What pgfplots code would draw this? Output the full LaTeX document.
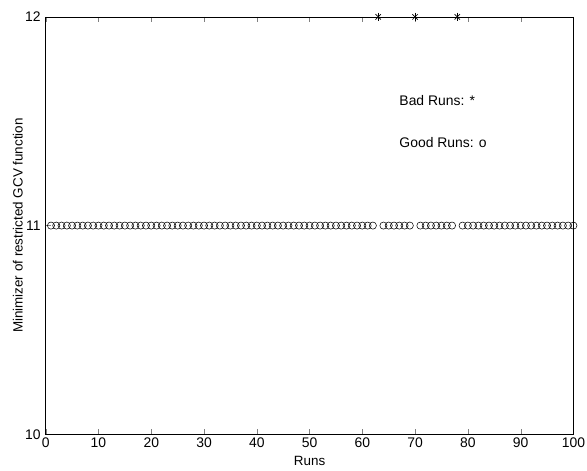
\documentclass[border=0pt]{standalone}
\usepackage{pgfplots}
\pgfplotsset{compat=1.18}
\usepackage{fontspec}
\setmainfont{Liberation Sans}
\begin{document}
\fontsize{14}{16}\selectfont
\begin{tikzpicture}
\begin{axis}[
  scale only axis, width=531pt, height=420pt,
  xmin=0, xmax=100, ymin=10, ymax=12,
  xtick={0,10,...,100}, ytick={10,11,12},
  tick align=inside, major tick length=5pt,
  xtick pos=both, ytick pos=left,
  /pgf/number format/assume math mode=true,
  tick label style={font=\fontsize{14}{16}\selectfont},
  label style={font=\fontsize{13.5}{16}\selectfont},
  xlabel={Runs}, ylabel={Minimizer of restricted GCV function},
  xlabel style={at={([yshift=-27pt]axis description cs:0.5,0)}, anchor=center},
  ylabel style={at={([xshift=-28pt]axis description cs:0,0.5)}, anchor=center},
  xticklabel style={inner sep=2pt, yshift=-1pt},
  yticklabel style={inner sep=2pt, xshift=-3pt},
  clip=false, axis line style={black, line width=0.6pt},
]
\addplot[only marks, mark=o, mark size=3.6pt, mark options={line width=0.55pt}] table {
x y
1 11
2 11
3 11
4 11
5 11
6 11
7 11
8 11
9 11
10 11
11 11
12 11
13 11
14 11
15 11
16 11
17 11
18 11
19 11
20 11
21 11
22 11
23 11
24 11
25 11
26 11
27 11
28 11
29 11
30 11
31 11
32 11
33 11
34 11
35 11
36 11
37 11
38 11
39 11
40 11
41 11
42 11
43 11
44 11
45 11
46 11
47 11
48 11
49 11
50 11
51 11
52 11
53 11
54 11
55 11
56 11
57 11
58 11
59 11
60 11
61 11
62 11
64 11
65 11
66 11
67 11
68 11
69 11
71 11
72 11
73 11
74 11
75 11
76 11
77 11
79 11
80 11
81 11
82 11
83 11
84 11
85 11
86 11
87 11
88 11
89 11
90 11
91 11
92 11
93 11
94 11
95 11
96 11
97 11
98 11
99 11
100 11
};
\addplot[only marks, mark=+, mark size=4.2pt, mark options={line width=0.7pt}] table {
x y
63 12
70 12
78 12
};
\addplot[only marks, mark=x, mark size=3.8pt, mark options={line width=0.7pt}] table {
x y
63 12
70 12
78 12
};
\node[anchor=west, inner sep=0pt] at (axis cs:67,11.6) {Bad Runs: *};
\node[anchor=west, inner sep=0pt] at (axis cs:67,11.4) {Good Runs: o};
\path (current axis.south west) ++(-46pt,-36pt);
\path (current axis.north east) ++(10pt,17pt);
\end{axis}
\end{tikzpicture}
\end{document}
